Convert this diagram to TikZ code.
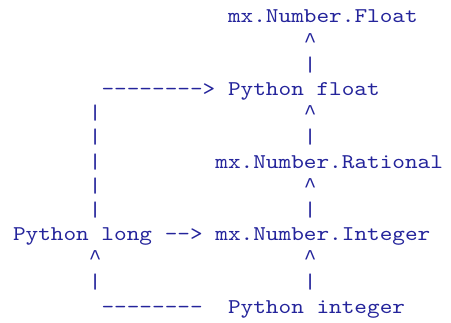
\documentclass[tikz,border=0pt]{standalone}
\usepackage{fontspec}
\setmonofont{lmmono10-regular.otf}[FakeStretch=1.147]
\newfontfamily\caretfont{Liberation Mono}
\definecolor{asciiblue}{RGB}{36,36,155}
\tikzset{
  asciitxt/.style={inner sep=0pt, outer sep=0pt, anchor=base west,
    text=asciiblue, font=\ttfamily\fontsize{21}{24}\selectfont},
}
\newcommand\asciitok[4]{\node[asciitxt] (#1) at ({13+12.65*#2},{323-23-24.17*#3}) {#4};}
\newcommand\asciicaret{{\caretfont\fontsize{21.08}{24}\selectfont\textasciicircum}}
\begin{document}
\begin{tikzpicture}[x=1pt,y=1pt]
\useasboundingbox (0,0) rectangle (451,323);
\asciitok{mxfloat}{17}{0}{mx.Number.Float}
\asciitok{c1}{23}{1}{\asciicaret}
\asciitok{c2}{23}{2}{|}
\asciitok{arrtop}{7}{3}{-------->}
\asciitok{pyfloat}{17}{3}{Python float}
\asciitok{l4}{6}{4}{|}
\asciitok{c4}{23}{4}{\asciicaret}
\asciitok{l5}{6}{5}{|}
\asciitok{c5}{23}{5}{|}
\asciitok{l6}{6}{6}{|}
\asciitok{mxrat}{16}{6}{mx.Number.Rational}
\asciitok{l7}{6}{7}{|}
\asciitok{c7}{23}{7}{\asciicaret}
\asciitok{l8}{6}{8}{|}
\asciitok{c8}{23}{8}{|}
\asciitok{pylong}{0}{9}{Python long}
\asciitok{arrmid}{12}{9}{-->}
\asciitok{mxint}{16}{9}{mx.Number.Integer}
\asciitok{l10}{6}{10}{\asciicaret}
\asciitok{c10}{23}{10}{\asciicaret}
\asciitok{l11}{6}{11}{|}
\asciitok{c11}{23}{11}{|}
\asciitok{arrbot}{7}{12}{--------}
\asciitok{pyint}{17}{12}{Python integer}
\end{tikzpicture}
\end{document}
